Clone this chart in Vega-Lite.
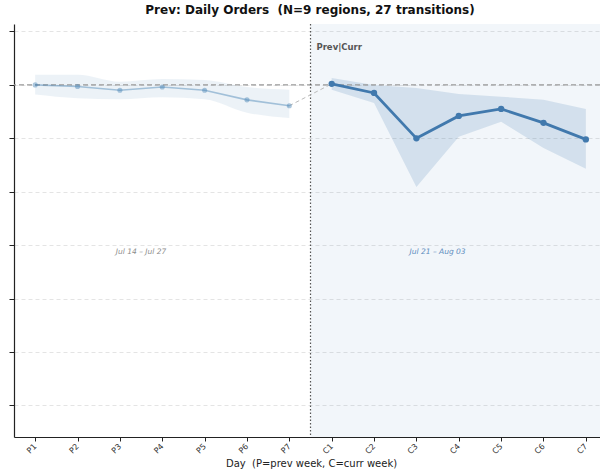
{
  "$schema": "https://vega.github.io/schema/vega-lite/v6.json",
  "autosize": {"type": "none"},
  "padding": {"left": 14, "top": 24, "right": 0, "bottom": 39},
  "width": 586,
  "height": 413,
  "background": "white",
  "config": {
    "font": "DejaVu Sans",
    "view": {"stroke": null},
    "title": {"font": "DejaVu Sans", "fontSize": 12, "fontWeight": "bold", "color": "#111", "offset": 6, "anchor": "middle"}
  },
  "title": {"text": "Prev: Daily Orders \u00a0(N=9 regions, 27 transitions)", "dx": 3},
  "datasets": {
    "series": [
      {"i": 0, "day": "P1", "series": "prev", "mean": 1.0, "lo": 0.982, "hi": 1.019},
      {"i": 1, "day": "P2", "series": "prev", "mean": 0.997, "lo": 0.975, "hi": 1.019},
      {"i": 2, "day": "P3", "series": "prev", "mean": 0.990, "lo": 0.973, "hi": 1.006},
      {"i": 3, "day": "P4", "series": "prev", "mean": 0.996, "lo": 0.977, "hi": 1.011},
      {"i": 4, "day": "P5", "series": "prev", "mean": 0.990, "lo": 0.973, "hi": 1.009},
      {"i": 5, "day": "P6", "series": "prev", "mean": 0.972, "lo": 0.948, "hi": 0.996},
      {"i": 6, "day": "P7", "series": "prev", "mean": 0.961, "lo": 0.938, "hi": 0.991},
      {"i": 7, "day": "C1", "series": "curr", "mean": 1.002, "lo": 0.991, "hi": 1.013},
      {"i": 8, "day": "C2", "series": "curr", "mean": 0.985, "lo": 0.966, "hi": 1.0},
      {"i": 9, "day": "C3", "series": "curr", "mean": 0.900, "lo": 0.809, "hi": 0.994},
      {"i": 10, "day": "C4", "series": "curr", "mean": 0.942, "lo": 0.903, "hi": 0.983},
      {"i": 11, "day": "C5", "series": "curr", "mean": 0.955, "lo": 0.931, "hi": 0.978},
      {"i": 12, "day": "C6", "series": "curr", "mean": 0.929, "lo": 0.882, "hi": 0.972},
      {"i": 13, "day": "C7", "series": "curr", "mean": 0.898, "lo": 0.843, "hi": 0.955}
    ],
    "connector": [
      {"i": 6, "mean": 0.961},
      {"i": 7, "mean": 1.002}
    ],
    "shade": [{"x0": 6.5, "x1": 14}],
    "labels": [
      {"i": 2.5, "v": 0.687, "text": "Jul 14 \u2013 Jul 27", "series": "prev"},
      {"i": 9.5, "v": 0.687, "text": "Jul 21 \u2013 Aug 03", "series": "curr"}
    ]
  },
  "encoding": {
    "x": {
      "field": "i", "type": "quantitative",
      "scale": {"domain": [-0.5, 13.334], "nice": false, "zero": false},
      "axis": {
        "values": [0,1,2,3,4,5,6,7,8,9,10,11,12,13],
        "labelExpr": "datum.value < 7 ? 'P' + (datum.value + 1) : 'C' + (datum.value - 6)",
        "labelAngle": -45, "labelAlign": "right", "labelBaseline": "middle",
        "labelFontSize": 8, "labelColor": "#333", "labelPadding": 4,
        "tickColor": "#222", "tickSize": 4, "domainColor": "#222", "domainWidth": 1.2,
        "grid": false,
        "title": "Day \u00a0(P=prev week, C=curr week)", "titleFontSize": 10, "titleFontWeight": "normal", "titleColor": "#222", "titlePadding": 3, "titleX": 297
      }
    }
  },
  "layer": [
    {
      "data": {"name": "shade"},
      "mark": {"type": "rect", "color": "#4682b4", "opacity": 0.07, "clip": true},
      "encoding": {
        "x": {"field": "x0", "type": "quantitative"},
        "x2": {"field": "x1"}
      }
    },
    {
      "data": {"name": "series"},
      "transform": [{"filter": "datum.series == 'prev'"}],
      "mark": {"type": "area", "color": "#4682b4", "opacity": 0.1, "interpolate": "monotone"},
      "encoding": {
        "y": {
          "field": "lo", "type": "quantitative",
          "scale": {"domain": [0.341, 1.114], "nice": false, "zero": false},
          "axis": {
            "values": [0.4, 0.5, 0.6, 0.7, 0.8, 0.9, 1.0, 1.1],
            "labels": false, "title": null,
            "tickColor": "#222", "tickSize": 5, "domainColor": "#222", "domainWidth": 1.2,
            "grid": true, "gridColor": "#dddddd", "gridDash": [4, 3], "gridWidth": 0.8
          }
        },
        "y2": {"field": "hi"}
      }
    },
    {
      "data": {"name": "series"},
      "transform": [{"filter": "datum.series == 'curr'"}],
      "mark": {"type": "area", "color": "#4682b4", "opacity": 0.18},
      "encoding": {
        "y": {"field": "lo", "type": "quantitative"},
        "y2": {"field": "hi"}
      }
    },
    {
      "data": {"values": [{"y": 1.0}]},
      "mark": {"type": "rule", "color": "#999999", "strokeDash": [5, 3], "strokeWidth": 1.2},
      "encoding": {"y": {"field": "y", "type": "quantitative"}, "x": null}
    },
    {
      "data": {"values": [{"x": 6.5}]},
      "mark": {"type": "rule", "color": "#555555", "strokeDash": [1.5, 2], "strokeWidth": 1.2},
      "encoding": {"x": {"field": "x", "type": "quantitative"}}
    },
    {
      "data": {"name": "connector"},
      "mark": {"type": "line", "color": "#bbbbbb", "strokeDash": [4, 3], "strokeWidth": 1},
      "encoding": {"y": {"field": "mean", "type": "quantitative"}}
    },
    {
      "data": {"name": "series"},
      "transform": [{"filter": "datum.series == 'prev'"}],
      "mark": {"type": "line", "color": "#4682b4", "opacity": 0.45, "strokeWidth": 1.6, "point": {"filled": true, "size": 26, "color": "#4682b4", "opacity": 0.45}},
      "encoding": {"y": {"field": "mean", "type": "quantitative"}}
    },
    {
      "data": {"name": "series"},
      "transform": [{"filter": "datum.series == 'curr'"}],
      "mark": {"type": "line", "color": "#4179ad", "strokeWidth": 2.8, "point": {"filled": true, "size": 40, "color": "#4179ad"}},
      "encoding": {"y": {"field": "mean", "type": "quantitative"}}
    },
    {
      "data": {"values": [{"x": 6.64, "y": 1.071, "t": "Prev|Curr"}]},
      "mark": {"type": "text", "align": "left", "baseline": "middle", "fontSize": 8.5, "fontWeight": "bold", "color": "#555555"},
      "encoding": {
        "x": {"field": "x", "type": "quantitative"},
        "y": {"field": "y", "type": "quantitative"},
        "text": {"field": "t"}
      }
    },
    {
      "data": {"name": "labels"},
      "mark": {"type": "text", "align": "center", "baseline": "middle", "fontSize": 7.5, "fontStyle": "italic"},
      "encoding": {
        "x": {"field": "i", "type": "quantitative"},
        "y": {"field": "v", "type": "quantitative"},
        "text": {"field": "text"},
        "color": {"field": "series", "type": "nominal", "scale": {"domain": ["prev", "curr"], "range": ["#8c8c8c", "#5a8bbd"]}, "legend": null}
      }
    }
  ]
}
